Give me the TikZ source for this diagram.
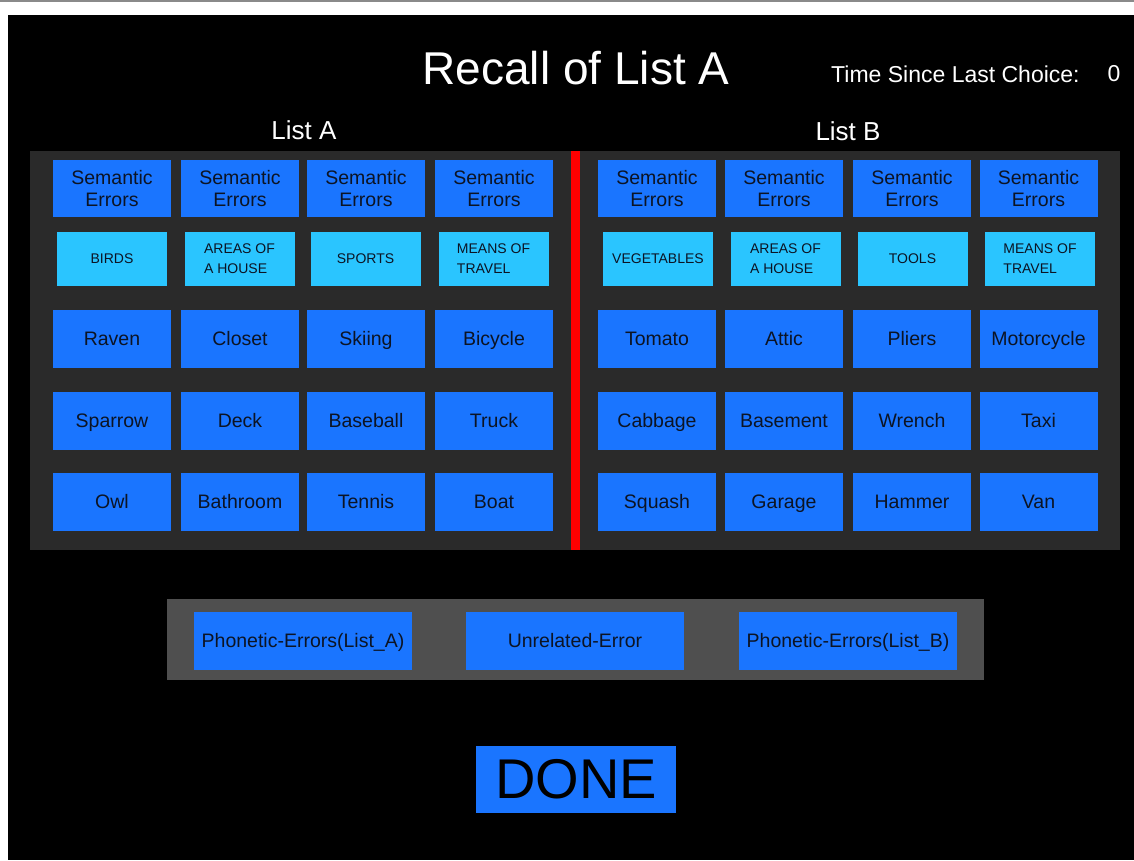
\documentclass[tikz,border=0pt]{standalone}
\usepackage{fontspec}
\setmainfont{Liberation Sans}
\definecolor{panel}{HTML}{2A2A2A}
\definecolor{lowpanel}{HTML}{4F4F4F}
\definecolor{btnblue}{HTML}{1A75FF}
\definecolor{catblue}{HTML}{2AC5FF}
\definecolor{btntext}{HTML}{0C1424}
\definecolor{edgegrey}{HTML}{8A8A8A}
\tikzset{
  btn/.style={fill=btnblue, draw=none, minimum width=118pt, minimum height=58pt, inner sep=0pt,
    text=btntext, font=\fontsize{19.5}{22}\selectfont, align=center},
  word/.style={btn, text height=14pt, text depth=1pt},
  catbtn/.style={fill=catblue, draw=none, minimum width=110pt, minimum height=54pt, inner sep=0pt,
    text=btntext, font=\fontsize{14}{20}\selectfont, align=left},
  wtext/.style={text=white, inner sep=0pt}
}
\begin{document}
\begin{tikzpicture}[x=1pt,y=-1pt]
\useasboundingbox (0,0) rectangle (1134,860);
% page background
\fill[white] (0,0) rectangle (1134,860);
\fill[edgegrey] (0,0) rectangle (1134,1.5);
\fill[black] (8,15) rectangle (1134,860);
% titles
\node[wtext, font=\fontsize{46}{50}\selectfont] (title) at (576,68) {Recall of List A};
\node[wtext, font=\fontsize{23}{26}\selectfont, anchor=west] (timelbl) at (831,74) {Time Since Last Choice:};
\node[wtext, font=\fontsize{23}{26}\selectfont] (timeval) at (1114,74) {0};
\node[wtext, font=\fontsize{26}{30}\selectfont] (lista) at (304,130) {List A};
\node[wtext, font=\fontsize{26}{30}\selectfont] (listb) at (848,131) {List B};
% main panel
\fill[panel] (30,151) rectangle (1120,550);
\fill[red] (571,151) rectangle (579.5,550);
% semantic errors row
\foreach \x [count=\i] in {112,240,366,494,657,784,912,1038.5}
  \node[btn, minimum height=57pt] (sem\i) at (\x,188.5) {Semantic\\Errors};
% category row
\foreach \x/\t [count=\i] in {112/BIRDS, 239.5/{AREAS OF\\A HOUSE}, 365.5/SPORTS, 493.5/{MEANS OF\\TRAVEL},
  658/VEGETABLES, 785.5/{AREAS OF\\A HOUSE}, 912.5/TOOLS, 1040/{MEANS OF\\TRAVEL}}
  \node[catbtn] (cat\i) at (\x,259) {\t};
% word rows
\foreach \x/\t [count=\i] in {112/Raven, 240/Closet, 366/Skiing, 494/Bicycle, 657/Tomato, 784/Attic, 912/Pliers, 1038.5/Motorcycle}
  \node[word] (wa\i) at (\x,339) {\t};
\foreach \x/\t [count=\i] in {112/Sparrow, 240/Deck, 366/Baseball, 494/Truck, 657/Cabbage, 784/Basement, 912/Wrench, 1038.5/Taxi}
  \node[word] (wb\i) at (\x,421) {\t};
\foreach \x/\t [count=\i] in {112/Owl, 240/Bathroom, 366/Tennis, 494/Boat, 657/Squash, 784/Garage, 912/Hammer, 1038.5/Van}
  \node[word] (wc\i) at (\x,502) {\t};
% lower panel
\fill[lowpanel] (167,599) rectangle (984,680);
\node[word, minimum width=218pt] (phona) at (303,641) {Phonetic-Errors(List\_A)};
\node[word, minimum width=218pt] (unrel) at (575,641) {Unrelated-Error};
\node[word, minimum width=218pt] (phonb) at (848,641) {Phonetic-Errors(List\_B)};
% done
\node[btn, minimum width=200pt, minimum height=67pt, text=black, font=\fontsize{56}{60}\selectfont] (done) at (576,779) {DONE};
\end{tikzpicture}
\end{document}
